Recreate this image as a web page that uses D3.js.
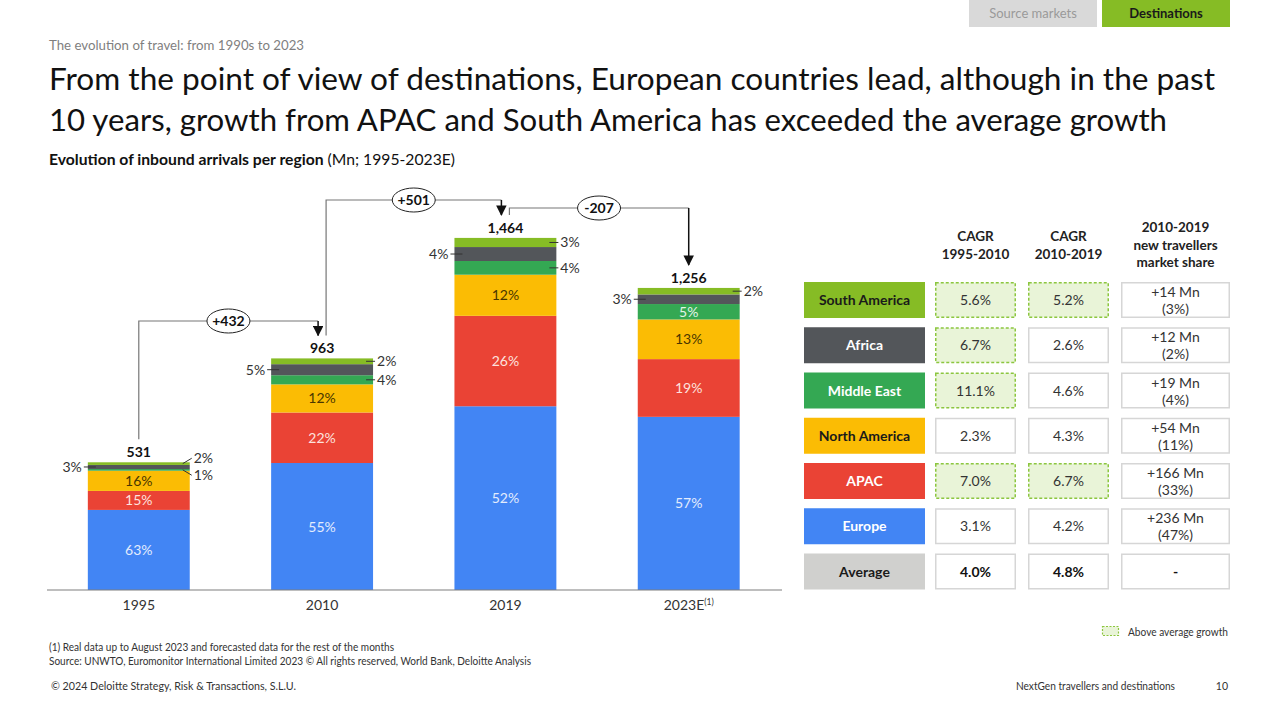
<!DOCTYPE html>
<html><head><meta charset="utf-8">
<script src="https://cdn.jsdelivr.net/npm/d3@7"></script>
<style>
body{margin:0;background:#fff;}
svg{display:block;font-family:Lato,"Open Sans",sans-serif;}
</style>
</head><body>
<svg id="c" width="1280" height="717"></svg>
<script>
// ---------------- DATA ----------------
const years = ["1995", "2010", "2019", "2023E"];
const totals = [531, 963, 1464, 1256];
const regionKeys = ["Europe", "APAC", "North America", "Middle East", "Africa", "South America"]; // bottom -> top
const europe = [333, 528, 764, 720];
const apac = [79, 210, 376, 240];
const northAmerica = [84, 117, 171, 165];
const middleEast = [7, 38, 57, 64];
const africa = [17, 46, 58, 40];
const southAmerica = [11, 24, 38, 27];
const changeLabels = ["+432", "+501", "-207"];

const tableRegions = ["South America", "Africa", "Middle East", "North America", "APAC", "Europe"];
const cagr1995_2010 = [5.6, 6.7, 11.1, 2.3, 7.0, 3.1];
const cagr2010_2019 = [5.2, 2.6, 4.6, 4.3, 6.7, 4.2];
const newTravellersMn = [14, 12, 19, 54, 166, 236];
const newTravellersShare = [3, 2, 4, 11, 33, 47];
const averageCagr = [4.0, 4.8];

// ---------------- STYLE ----------------
const colors = {
  "Europe": "#4285f4", "APAC": "#ea4335", "North America": "#fbbc04",
  "Middle East": "#34a853", "Africa": "#53565a", "South America": "#86bc25"
};
const insideText = {
  "Europe": "#e3ecfd", "APAC": "#fde2df", "North America": "#4a3600",
  "Middle East": "#e4f4e8", "Africa": "#ffffff", "South America": "#1a1a1a"
};
const tableText = {
  "Europe": "#ffffff", "APAC": "#ffffff", "North America": "#1a1a1a",
  "Middle East": "#ffffff", "Africa": "#ffffff", "South America": "#1a1a1a"
};

const svg = d3.select("#c");
const fmt = d3.format(",");

function fit(sel, w) {
  const n = sel.node();
  const l = n.getComputedTextLength();
  if (Math.abs(l - w) > 1) sel.attr("textLength", w).attr("lengthAdjust", "spacingAndGlyphs");
  return sel;
}

// ---------------- HEADER ----------------
svg.append("rect").attr("x", 969).attr("y", 0).attr("width", 128).attr("height", 27).attr("fill", "#d9d9d9");
svg.append("text").attr("x", 1033).attr("y", 17.5).attr("text-anchor", "middle")
  .attr("font-size", 13).attr("fill", "#9a9a9a").text("Source markets");
svg.append("rect").attr("x", 1102).attr("y", 0).attr("width", 128).attr("height", 27).attr("fill", "#86bc25");
svg.append("text").attr("x", 1166).attr("y", 17.5).attr("text-anchor", "middle")
  .attr("font-size", 13).attr("font-weight", 700).attr("fill", "#1a1a1a").text("Destinations");

fit(svg.append("text").attr("x", 49).attr("y", 50).attr("font-size", 13).attr("fill", "#7f7f7f")
  .text("The evolution of travel: from 1990s to 2023"), 255);
fit(svg.append("text").attr("x", 49).attr("y", 90).attr("font-size", 30).attr("fill", "#111")
  .text("From the point of view of destinations, European countries lead, although in the past"), 1166);
fit(svg.append("text").attr("x", 49).attr("y", 131).attr("font-size", 30).attr("fill", "#111")
  .text("10 years, growth from APAC and South America has exceeded the average growth"), 1118);
const sub = svg.append("text").attr("x", 49).attr("y", 165).attr("font-size", 15.5).attr("fill", "#111");
sub.append("tspan").attr("font-weight", 700).text("Evolution of inbound arrivals per region");
sub.append("tspan").text(" (Mn; 1995-2023E)");
fit(sub, 406);

// ---------------- CHART ----------------
const rows = years.map((y, i) => ({
  year: y, total: totals[i],
  "Europe": europe[i], "APAC": apac[i], "North America": northAmerica[i],
  "Middle East": middleEast[i], "Africa": africa[i], "South America": southAmerica[i]
}));
const series = d3.stack().keys(regionKeys)(rows);

const x = d3.scaleBand().domain(years).range([42, 785.5]).paddingInner(0.444).paddingOuter(0.25);
const y = d3.scaleLinear().domain([0, 1464]).range([590, 590 - 1464 * 0.2405]);
const bw = x.bandwidth();

const g = svg.append("g");
series.forEach(s => {
  g.selectAll(null).data(s).enter().append("rect")
    .attr("x", d => x(d.data.year))
    .attr("y", d => y(d[1]))
    .attr("width", bw)
    .attr("height", d => y(d[0]) - y(d[1]))
    .attr("fill", colors[s.key]);
});

// axis
const axisG = svg.append("g").attr("transform", "translate(0,590)")
  .call(d3.axisBottom(x).tickSize(0).tickPadding(10).tickFormat(() => ""));
axisG.select(".domain").attr("d", "M47,0H782").attr("stroke", "#7f7f7f").attr("stroke-width", 1.2);
axisG.selectAll(".tick text").remove();
years.forEach(yr => {
  const t = svg.append("text").attr("x", x(yr) + bw / 2).attr("y", 610)
    .attr("text-anchor", "middle").attr("font-size", 14).attr("fill", "#333");
  if (yr === "2023E") {
    t.append("tspan").text("2023E");
    t.append("tspan").attr("font-size", 8.5).attr("dy", -5).text("(1)");
  } else t.text(yr);
});

// labels
series.forEach(s => {
  s.forEach(d => {
    const h = y(d[0]) - y(d[1]);
    if (h >= 15) {
      const v = d[1] - d[0];
      svg.append("text").attr("x", x(d.data.year) + bw / 2).attr("y", (y(d[0]) + y(d[1])) / 2 + 5)
        .attr("text-anchor", "middle").attr("font-size", 14).attr("fill", insideText[s.key])
        .text(Math.round(v / d.data.total * 100) + "%");
    }
  });
});
// outside labels
rows.forEach((r, i) => {
  const left = x(r.year), right = left + bw;
  const seg = k => { const s = series.find(q => q.key === k)[i]; return { c: (y(s[0]) + y(s[1])) / 2, h: y(s[0]) - y(s[1]), v: s[1] - s[0] }; };
  const pct = v => Math.round(v / r.total * 100) + "%";
  const af = seg("Africa");
  if (af.h < 15) {
    svg.append("line").attr("x1", left - 4).attr("x2", left + 8).attr("y1", af.c).attr("y2", af.c).attr("stroke", "#333").attr("stroke-width", 1);
    svg.append("text").attr("x", left - 6).attr("y", af.c + 5).attr("text-anchor", "end")
      .attr("font-size", 14).attr("fill", "#333").text(pct(af.v));
  }
  const items = [];
  const sa = seg("South America"), me = seg("Middle East");
  if (sa.h < 15) items.push({ c: sa.c, ly: sa.c, v: sa.v });
  if (me.h < 15) items.push({ c: me.c, ly: me.c, v: me.v });
  if (items.length === 2 && items[1].ly - items[0].ly < 17) {
    const m = (items[0].ly + items[1].ly) / 2;
    items[0].ly = m - 8.5; items[1].ly = m + 8.5;
  }
  items.forEach(it => {
    svg.append("line").attr("x1", right - 7).attr("y1", it.c).attr("x2", right + 2).attr("y2", it.ly)
      .attr("stroke", "#333").attr("stroke-width", 1);
    svg.append("text").attr("x", right + 4).attr("y", it.ly + 5)
      .attr("font-size", 14).attr("fill", "#333").text(pct(it.v));
  });
  svg.append("text").attr("x", left + bw / 2).attr("y", y(r.total) - 5).attr("text-anchor", "middle")
    .attr("font-size", 14).attr("font-weight", 700).attr("fill", "#111").text(fmt(r.total));
});

// change brackets
svg.append("defs").append("marker").attr("id", "ah").attr("viewBox", "0 0 10 10")
  .attr("refX", 9).attr("refY", 5).attr("markerWidth", 7).attr("markerHeight", 7)
  .attr("orient", "auto").append("path").attr("d", "M0,0L10,5L0,10z").attr("fill", "#111");
const bracketLevels = [321, 200, 208];
const startOff = [0, 4, 4], endOff = [-4, -4, 0];
changeLabels.forEach((lab, i) => {
  const x1 = x(years[i]) + bw / 2 + startOff[i];
  const x2 = x(years[i + 1]) + bw / 2 + endOff[i];
  const y1 = y(totals[i]) - 23, y2 = y(totals[i + 1]) - 23;
  const lv = bracketLevels[i];
  svg.append("path").attr("d", `M${x1},${y1}V${lv}H${x2}`).attr("fill", "none")
    .attr("stroke", "#777").attr("stroke-width", 1.2);
  svg.append("line").attr("x1", x2).attr("y1", lv).attr("x2", x2).attr("y2", y2)
    .attr("stroke", "#111").attr("stroke-width", 1.5).attr("marker-end", "url(#ah)");
  const cx = (x1 + x2) / 2;
  svg.append("ellipse").attr("cx", cx).attr("cy", lv).attr("rx", 21.5).attr("ry", 12)
    .attr("fill", "#fff").attr("stroke", "#222").attr("stroke-width", 1);
  svg.append("text").attr("x", cx).attr("y", lv + 5).attr("text-anchor", "middle")
    .attr("font-size", 14).attr("font-weight", 700).attr("fill", "#111").text(lab);
});

// ---------------- TABLE ----------------
const tg = svg.append("g");
const colX = [804, 935, 1028, 1121], colW = [121, 81, 81, 109];
const rowY0 = 282, rowStep = 45.25, rowH = 36;
const hdr = [["CAGR", "1995-2010"], ["CAGR", "2010-2019"], ["2010-2019", "new travellers", "market share"]];
hdr.forEach((lines, j) => {
  const cx = colX[j + 1] + colW[j + 1] / 2;
  const startY = lines.length === 2 ? 241 : 232;
  lines.forEach((l, k) => tg.append("text").attr("x", cx).attr("y", startY + k * 17.5)
    .attr("text-anchor", "middle").attr("font-size", 13.5).attr("font-weight", 700).attr("fill", "#222").text(l));
});
function cell(j, r, hl) {
  tg.append("rect").attr("x", colX[j] + 0.75).attr("y", rowY0 + r * rowStep + 0.75)
    .attr("width", colW[j] - 1.5).attr("height", rowH - 1.5)
    .attr("fill", hl ? "#e9f4d8" : "#fff")
    .attr("stroke", hl ? "#8cc63f" : "#d6d6d6").attr("stroke-width", 1.5)
    .attr("stroke-dasharray", hl ? "3,2" : null);
}
tableRegions.forEach((reg, r) => {
  const ry = rowY0 + r * rowStep;
  tg.append("rect").attr("x", colX[0]).attr("y", ry).attr("width", colW[0]).attr("height", rowH).attr("fill", colors[reg]);
  tg.append("text").attr("x", colX[0] + colW[0] / 2).attr("y", ry + rowH / 2 + 5).attr("text-anchor", "middle")
    .attr("font-size", 14).attr("font-weight", 700).attr("fill", tableText[reg]).text(reg);
  const vals = [cagr1995_2010[r], cagr2010_2019[r]];
  vals.forEach((v, k) => {
    cell(k + 1, r, v > averageCagr[k]);
    tg.append("text").attr("x", colX[k + 1] + colW[k + 1] / 2).attr("y", ry + rowH / 2 + 5)
      .attr("text-anchor", "middle").attr("font-size", 14).attr("fill", "#333").text(v.toFixed(1) + "%");
  });
  cell(3, r, false);
  const cx = colX[3] + colW[3] / 2;
  tg.append("text").attr("x", cx).attr("y", ry + 15).attr("text-anchor", "middle")
    .attr("font-size", 14).attr("fill", "#333").text("+" + newTravellersMn[r] + " Mn");
  tg.append("text").attr("x", cx).attr("y", ry + 32).attr("text-anchor", "middle")
    .attr("font-size", 14).attr("fill", "#333").text("(" + newTravellersShare[r] + "%)");
});
{
  const r = tableRegions.length, ry = rowY0 + r * rowStep;
  tg.append("rect").attr("x", colX[0]).attr("y", ry).attr("width", colW[0]).attr("height", rowH).attr("fill", "#d0d0ce");
  tg.append("text").attr("x", colX[0] + colW[0] / 2).attr("y", ry + rowH / 2 + 5).attr("text-anchor", "middle")
    .attr("font-size", 14).attr("font-weight", 700).attr("fill", "#1a1a1a").text("Average");
  averageCagr.forEach((v, k) => {
    cell(k + 1, r, false);
    tg.append("text").attr("x", colX[k + 1] + colW[k + 1] / 2).attr("y", ry + rowH / 2 + 5)
      .attr("text-anchor", "middle").attr("font-size", 14).attr("font-weight", 700).attr("fill", "#111").text(v.toFixed(1) + "%");
  });
  cell(3, r, false);
  tg.append("text").attr("x", colX[3] + colW[3] / 2).attr("y", ry + rowH / 2 + 5)
    .attr("text-anchor", "middle").attr("font-size", 14).attr("font-weight", 700).attr("fill", "#111").text("-");
}
// legend
svg.append("rect").attr("x", 1102.5).attr("y", 626.5).attr("width", 16).attr("height", 9)
  .attr("fill", "#e9f4d8").attr("stroke", "#8cc63f").attr("stroke-width", 1.2).attr("stroke-dasharray", "2,1.5");
fit(svg.append("text").attr("x", 1128).attr("y", 636).attr("font-size", 10.5).attr("fill", "#333").text("Above average growth"), 100);

// ---------------- FOOTER ----------------
fit(svg.append("text").attr("x", 49).attr("y", 651).attr("font-size", 10.5).attr("fill", "#333")
  .text("(1) Real data up to August 2023 and forecasted data for the rest of the months"), 345);
fit(svg.append("text").attr("x", 49).attr("y", 665).attr("font-size", 10.5).attr("fill", "#333")
  .text("Source: UNWTO, Euromonitor International Limited 2023 © All rights reserved, World Bank, Deloitte Analysis"), 482);
fit(svg.append("text").attr("x", 51).attr("y", 690).attr("font-size", 10.5).attr("fill", "#333")
  .text("© 2024 Deloitte Strategy, Risk & Transactions, S.L.U."), 245);
fit(svg.append("text").attr("x", 1016).attr("y", 690).attr("font-size", 10.5).attr("fill", "#333")
  .text("NextGen travellers and destinations"), 159);
svg.append("text").attr("x", 1228).attr("y", 690).attr("text-anchor", "end").attr("font-size", 10.5).attr("fill", "#333").text("10");
</script>
</body></html>
